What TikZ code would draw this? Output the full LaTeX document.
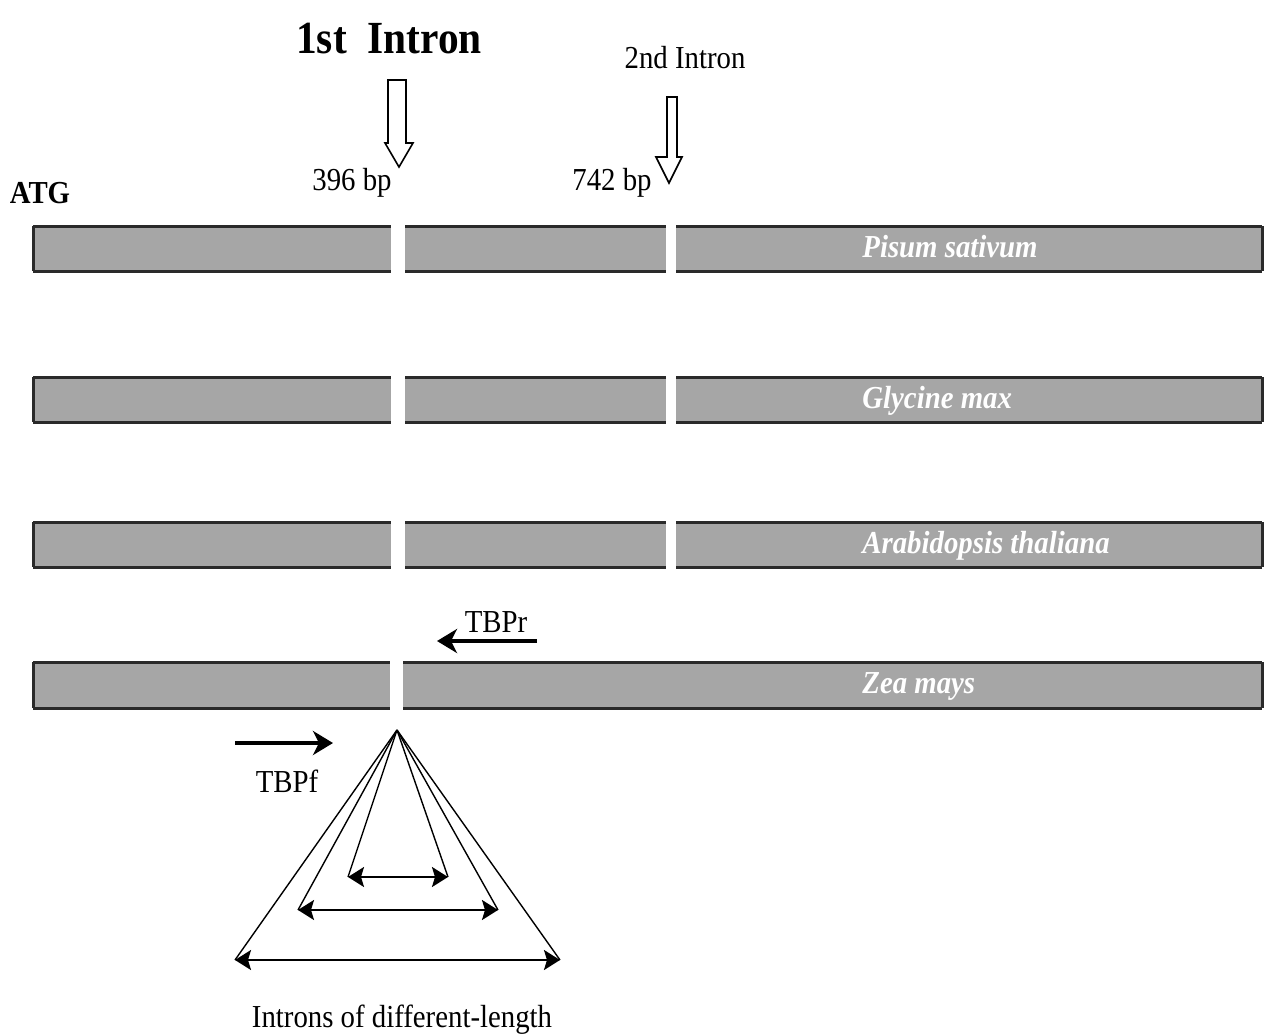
\documentclass[tikz,border=0pt]{standalone}
\usepackage{fontspec}
\setmainfont{Liberation Serif}[FakeStretch=0.9]
\usetikzlibrary{arrows.meta}
\definecolor{barfill}{HTML}{A6A6A6}
\definecolor{edgecol}{HTML}{2A2A2A}
\begin{document}
\begin{tikzpicture}[x=0.5pt,y=-0.5pt,
  edgeline/.style={line width=1.5pt,draw=edgecol},
  lbl/.style={font=\fontsize{16}{18}\selectfont,anchor=base,inner sep=0},
  species/.style={font=\fontsize{16}{18}\selectfont\bfseries\itshape,text=white,anchor=base west,inner sep=0},
  hollow/.style={draw,line width=0.8pt,fill=white},
  primer/.style={line width=2pt,-{Stealth[length=10pt,width=12pt,inset=3pt]}},
  span/.style={line width=1pt,{Stealth[length=8pt,width=10pt,inset=1.5pt]}-{Stealth[length=8pt,width=10pt,inset=1.5pt]}},
  ray/.style={line width=0.7pt}]
\useasboundingbox (0,0) rectangle (1270,1034);

% three-exon rows
\foreach \t in {226,377,522}{
  \pgfmathsetmacro\b{\t+45}
  \foreach \a/\e in {33/391,405/666,676/1262}{
    \fill[barfill] (\a,\t) rectangle (\e,\b);
    \draw[edgeline] (\a,\t) -- (\e,\t) (\a,\b) -- (\e,\b);
  }
  \draw[edgeline] (33,\t) -- (33,\b) (1262,\t) -- (1262,\b);
}
% Zea mays row
\foreach \a/\e in {33/390,403/1262}{
  \fill[barfill] (\a,662) rectangle (\e,708);
  \draw[edgeline] (\a,662) -- (\e,662) (\a,708) -- (\e,708);
}
\draw[edgeline] (33,662) -- (33,708) (1262,662) -- (1262,708);

% species labels
\node[species] (ps) at (862,257) {Pisum sativum};
\node[species] (gm) at (862,408) {Glycine max};
\node[species] (at) at (862,553) {Arabidopsis thaliana};
\node[species] (zm) at (862,693) {Zea mays};

% top labels
\node[lbl,font=\fontsize{23}{27}\selectfont\bfseries] (i1) at (389,53) {1st\hspace{0.45em}Intron};
\node[lbl] (i2) at (685,68) {2nd Intron};
\node[lbl] (bp1) at (352,190) {396 bp};
\node[lbl] (bp2) at (612,190) {742 bp};
\node[lbl,font=\fontsize{16}{18}\selectfont\bfseries] (atg) at (40,203) {ATG};

% hollow arrows
\draw[hollow] (388,80) -- (406,80) -- (406,143) -- (413,143) -- (399,167) -- (385,143) -- (388,143) -- cycle;
\draw[hollow] (667,97) -- (677,97) -- (677,157) -- (682,157) -- (669,183) -- (656,157) -- (667,157) -- cycle;

% primers
\coordinate (rs) at (537,641);
\coordinate (re) at (437,641);
\draw[primer] (rs) -- (re);
\node[lbl] (tbpr) at (496,632) {TBPr};
\coordinate (fs) at (235,743);
\coordinate (fe) at (333,743);
\draw[primer] (fs) -- (fe);
\node[lbl] (tbpf) at (287,792) {TBPf};

% intron fan
\coordinate (apex) at (397,730);
\coordinate (l1) at (348,877);
\coordinate (r1) at (448,877);
\coordinate (l2) at (298,910);
\coordinate (r2) at (498,910);
\coordinate (l3) at (235,960);
\coordinate (r3) at (560,960);
\foreach \p in {l1,r1,l2,r2,l3,r3}{\draw[ray] (apex) -- (\p);}
\draw[span] (l1) -- (r1);
\draw[span] (l2) -- (r2);
\draw[span] (l3) -- (r3);
\node[lbl] (intr) at (402,1027) {Introns of different-length};
\end{tikzpicture}
\end{document}
